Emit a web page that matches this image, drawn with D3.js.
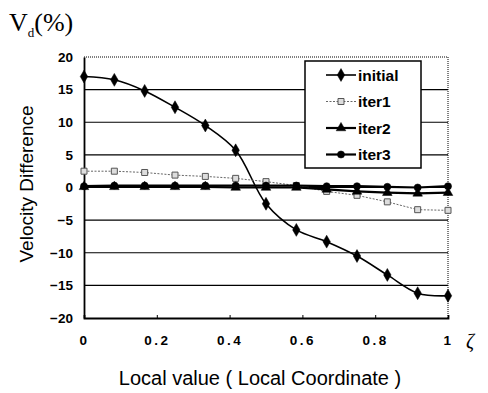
<!DOCTYPE html>
<html><head><meta charset="utf-8">
<script src="https://cdn.jsdelivr.net/npm/d3@7"></script>
<style>body{margin:0;background:#fff}svg{display:block}</style>
</head><body>
<svg id="c" width="488" height="393"></svg>
<script>
const xs = [0, 1/12, 2/12, 3/12, 4/12, 5/12, 6/12, 7/12, 8/12, 9/12, 10/12, 11/12, 1];
const initial = [17.0, 16.5, 14.8, 12.3, 9.5, 5.7, -2.5, -6.5, -8.3, -10.5, -13.4, -16.2, -16.6];
const iter1 = [2.5, 2.5, 2.3, 1.9, 1.7, 1.4, 0.9, 0.3, -0.6, -1.2, -2.2, -3.4, -3.5];
const iter2 = [0.1, 0.1, 0.1, 0.1, 0.1, 0.0, 0.0, 0.0, -0.3, -0.6, -0.8, -0.9, -0.8];
const iter3 = [0.2, 0.3, 0.3, 0.3, 0.3, 0.3, 0.3, 0.3, 0.2, 0.2, 0.1, 0.0, 0.2];
const seriesNames = ["initial", "iter1", "iter2", "iter3"];
const yTicks = [-20, -15, -10, -5, 0, 5, 10, 15, 20];
const xTicks = [0, 0.2, 0.4, 0.6, 0.8, 1];
const xTickLabels = ["0", "0.2", "0.4", "0.6", "0.8", "1"];

const svg = d3.select("#c");
const L = 84, R = 448, T = 57, B = 318;
const x = d3.scaleLinear().domain([0, 1]).range([L, R]);
const y = d3.scaleLinear().domain([-20, 20]).range([B, T]);

const styles = {
  initial: {stroke: "#000", width: 1.6, dash: null, marker: "diamond", fill: "#000", mstroke: "#000", size: 48, curve: d3.curveCatmullRom},
  iter1: {stroke: "#666", width: 1, dash: "2,1.5", marker: "square", fill: "#ddd", mstroke: "#555", size: 36, curve: d3.curveLinear},
  iter2: {stroke: "#000", width: 2.2, dash: null, marker: "triangle", fill: "#000", mstroke: "#000", size: 40, curve: d3.curveLinear},
  iter3: {stroke: "#000", width: 2.2, dash: null, marker: "circle", fill: "#000", mstroke: "#000", size: 40, curve: d3.curveLinear}
};
const dataMap = {initial, iter1, iter2, iter3};
const symMap = {diamond: d3.symbolDiamond, square: d3.symbolSquare, triangle: d3.symbolTriangle, circle: d3.symbolCircle};

// gridlines (solid) at interior ticks
svg.append("g").selectAll("line").data(yTicks.filter(v => v > -20 && v < 20)).join("line")
  .attr("x1", L).attr("x2", R).attr("y1", d => y(d)).attr("y2", d => y(d))
  .attr("stroke", "#000").attr("stroke-width", 1.2);
// top and right dotted border
svg.append("line").attr("x1", L).attr("x2", R).attr("y1", y(20)).attr("y2", y(20))
  .attr("stroke", "#000").attr("stroke-width", 1).attr("stroke-dasharray", "1,1");
svg.append("line").attr("x1", R).attr("x2", R).attr("y1", T).attr("y2", B)
  .attr("stroke", "#000").attr("stroke-width", 1).attr("stroke-dasharray", "1,1");

// axes
const yAxis = d3.axisLeft(y).tickValues(yTicks).tickSize(0).tickPadding(11).tickFormat(d3.format("d"));
const gy = svg.append("g").attr("transform", `translate(${L},0)`).call(yAxis);
gy.select(".domain").attr("stroke", "#000").attr("stroke-width", 1.8);
gy.selectAll("text").attr("font-family", "Liberation Sans, Arial, sans-serif").attr("font-size", 13.5)
  .attr("font-weight", "bold").attr("fill", "#000");

const xAxis = d3.axisBottom(x).tickValues(xTicks).tickSize(-3).tickPadding(17)
  .tickFormat((d, i) => xTickLabels[i]);
const gx = svg.append("g").attr("transform", `translate(0,${B})`).call(xAxis);
gx.select(".domain").attr("stroke", "#000").attr("stroke-width", 1.8);
gx.selectAll(".tick line").attr("stroke", "#000");
gx.selectAll("text").attr("font-family", "Liberation Sans, Arial, sans-serif").attr("font-size", 13.5)
  .attr("font-weight", "bold").attr("fill", "#000").attr("letter-spacing", "2.5px");

// series
seriesNames.forEach(name => {
  const s = styles[name];
  const pts = xs.map((xv, i) => [xv, dataMap[name][i]]);
  const line = d3.line().x(d => x(d[0])).y(d => y(d[1])).curve(s.curve);
  svg.append("path").datum(pts).attr("d", line).attr("fill", "none")
    .attr("stroke", s.stroke).attr("stroke-width", s.width)
    .attr("stroke-dasharray", s.dash);
  svg.append("g").selectAll("path").data(pts).join("path")
    .attr("transform", d => `translate(${x(d[0])},${y(d[1])})`)
    .attr("d", d3.symbol().type(symMap[s.marker]).size(s.size))
    .attr("fill", s.fill).attr("stroke", s.mstroke).attr("stroke-width", name === "iter1" ? 1 : 0.5);
});

// legend
const lg = svg.append("g");
lg.append("rect").attr("x", 305).attr("y", 61).attr("width", 116).attr("height", 107)
  .attr("fill", "#fff").attr("stroke", "#000").attr("stroke-width", 1.5);
seriesNames.forEach((name, i) => {
  const s = styles[name];
  const yy = 75 + i * 26.5;
  lg.append("line").attr("x1", 326).attr("x2", 356).attr("y1", yy).attr("y2", yy)
    .attr("stroke", s.stroke).attr("stroke-width", s.width).attr("stroke-dasharray", s.dash);
  lg.append("path").attr("transform", `translate(341,${yy})`)
    .attr("d", d3.symbol().type(symMap[s.marker]).size(s.size))
    .attr("fill", s.fill).attr("stroke", s.mstroke).attr("stroke-width", name === "iter1" ? 1 : 0.5);
  lg.append("text").attr("x", 358).attr("y", yy + 5.5).text(name)
    .attr("font-family", "Liberation Sans, Arial, sans-serif").attr("font-size", 15.5)
    .attr("font-weight", "bold").attr("fill", "#000");
});

// titles
svg.append("text").attr("transform", "translate(33,184) rotate(-90)").attr("text-anchor", "middle")
  .attr("font-family", "Liberation Sans, Arial, sans-serif").attr("font-size", 19).text("Velocity Difference");
svg.append("text").attr("x", 260).attr("y", 385).attr("text-anchor", "middle")
  .attr("font-family", "Liberation Sans, Arial, sans-serif").attr("font-size", 20)
  .text("Local value ( Local Coordinate )");
const vt = svg.append("text").attr("x", 9).attr("y", 31)
  .attr("font-family", "Liberation Serif, Times New Roman, serif").attr("font-size", 26);
vt.append("tspan").text("V");
vt.append("tspan").attr("font-size", 13).attr("dy", 6).text("d");
vt.append("tspan").attr("dy", -6).text("(%)");
svg.append("text").attr("x", 466).attr("y", 348)
  .attr("font-family", "Liberation Serif, Times New Roman, serif").attr("font-size", 20).attr("font-style", "italic").text("ζ");
</script>
</body></html>
